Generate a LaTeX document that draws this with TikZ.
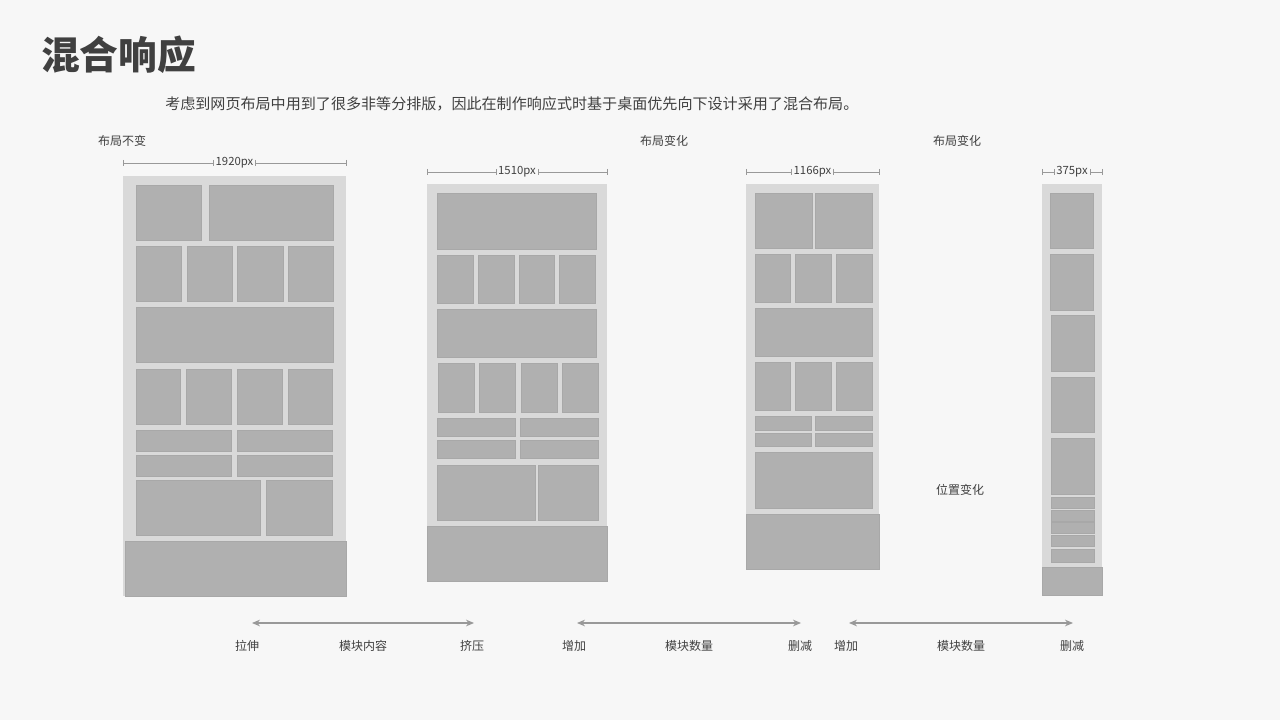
\documentclass[tikz,border=0pt]{standalone}
\usepackage{fontspec}
\setmainfont{Noto Sans CJK SC}
\usetikzlibrary{arrows.meta}
\definecolor{bg}{HTML}{F7F7F7}
\definecolor{panel}{HTML}{D9D9D9}
\definecolor{blk}{HTML}{B0B0B0}
\definecolor{blkb}{HTML}{A8A8A8}
\definecolor{txt}{HTML}{404040}
\definecolor{dim}{HTML}{999999}
\newcommand{\bx}[4]{\fill[blk,draw=blkb,line width=0.4pt] (#1,#2) rectangle (#3,#4);}
\newcommand{\pn}[4]{\fill[panel] (#1,#2) rectangle (#3,#4);}
\newcommand{\dimline}[5]{%
 \draw[dim,line width=0.5pt] (#1,#3)--(#2,#3);
 \draw[dim,line width=0.5pt] (#1,#3-3)--(#1,#3+3) (#2,#3-3)--(#2,#3+3);
 \node[fill=bg,inner sep=1.5pt,font=\fontsize{8.5}{10}\selectfont,text=txt] (#5) at ({(#1+#2)/2},#3) {#4};
 \draw[dim,line width=0.5pt] (#5.west)++(0,-3)--++(0,6) (#5.east)++(0,-3)--++(0,6);}
\tikzset{lbl/.style={font=\fontsize{9}{11}\selectfont,text=txt,inner sep=0pt},
 arr/.style={{Stealth[length=6pt,width=5pt]}-{Stealth[length=6pt,width=5pt]},dim,line width=0.8pt}}
\begin{document}
\begin{tikzpicture}[x=0.75pt,y=-0.75pt]
\fill[bg] (0,0) rectangle (1280,720);
\useasboundingbox (0,0) rectangle (1280,720);
\node[anchor=west,font=\fontsize{29}{32}\bfseries\selectfont,text=txt,inner sep=0pt] (title) at (41,55) {混合响应};
\node[anchor=west,font=\fontsize{11.3}{13}\selectfont,text=txt,inner sep=0pt] (sub) at (165,104) {考虑到网页布局中用到了很多非等分排版，因此在制作响应式时基于桌面优先向下设计采用了混合布局。};
\node[lbl] (l1) at (122,141) {布局不变};
\node[lbl] (l2) at (664,141) {布局变化};
\node[lbl] (l3) at (957,141) {布局变化};
\node[lbl] (l4) at (960,490) {位置变化};
% panel 1
\pn{123}{176}{346}{596}
\bx{136}{185}{201}{240}\bx{209}{185}{333}{240}
\bx{136}{246}{181}{301}\bx{187}{246}{232}{301}\bx{237}{246}{283}{301}\bx{288}{246}{333}{301}
\bx{136}{307}{333}{362}
\bx{136}{369}{180}{424}\bx{186}{369}{231}{424}\bx{237}{369}{282}{424}\bx{288}{369}{332}{424}
\bx{136}{430}{231}{451}\bx{237}{430}{332}{451}
\bx{136}{455}{231}{476}\bx{237}{455}{332}{476}
\bx{136}{480}{260}{535}\bx{266}{480}{332}{535}
\bx{125}{541}{346}{596}
\dimline{123}{346}{163}{1920px}{d1}
% panel 2
\pn{427}{184}{607}{581}
\bx{437}{193}{596}{249}
\bx{437}{255}{473}{303}\bx{478}{255}{514}{303}\bx{519}{255}{554}{303}\bx{559}{255}{595}{303}
\bx{437}{309}{596}{357}
\bx{438}{363}{474}{412}\bx{479}{363}{515}{412}\bx{521}{363}{557}{412}\bx{562}{363}{598}{412}
\bx{437}{418}{515}{436}\bx{520}{418}{598}{436}
\bx{437}{440}{515}{458}\bx{520}{440}{598}{458}
\bx{437}{465}{535}{520}\bx{538}{465}{598}{520}
\bx{427}{526}{607}{581}
\dimline{427}{607}{172}{1510px}{d2}
% panel 3
\pn{746}{184}{879}{569}
\bx{755}{193}{812}{248}\bx{815}{193}{872}{248}
\bx{755}{254}{790}{302}\bx{795}{254}{831}{302}\bx{836}{254}{872}{302}
\bx{755}{308}{872}{356}
\bx{755}{362}{790}{410}\bx{795}{362}{831}{410}\bx{836}{362}{872}{410}
\bx{755}{416}{811}{430}\bx{815}{416}{872}{430}
\bx{755}{433}{811}{446}\bx{815}{433}{872}{446}
\bx{755}{452}{872}{508}
\bx{746}{514}{879}{569}
\dimline{746}{879}{172}{1166px}{d3}
% panel 4
\pn{1042}{184}{1102}{595}
\bx{1050}{193}{1093}{248}\bx{1050}{254}{1093}{310}
\bx{1051}{315}{1094}{371}\bx{1051}{377}{1094}{432}\bx{1051}{438}{1094}{494}
\bx{1051}{497}{1094}{508}\bx{1051}{510}{1094}{521}\bx{1051}{522}{1094}{533}\bx{1051}{535}{1094}{546}\bx{1051}{549}{1094}{562}
\bx{1042}{567}{1102}{595}
\dimline{1042}{1102}{172}{375px}{d4}
% arrows
\coordinate (a1) at (252,623); \coordinate (b1) at (474,623);
\coordinate (a2) at (577,623); \coordinate (b2) at (801,623);
\coordinate (a3) at (849,623); \coordinate (b3) at (1073,623);
\draw[arr] (a1)--(b1); \draw[arr] (a2)--(b2); \draw[arr] (a3)--(b3);
\node[lbl] (t1) at (247,646) {拉伸};
\node[lbl] (t2) at (363,646) {模块内容};
\node[lbl] (t3) at (472,646) {挤压};
\node[lbl] (t4) at (574,646) {增加};
\node[lbl] (t5) at (689,646) {模块数量};
\node[lbl] (t6) at (800,646) {删减};
\node[lbl] (t7) at (846,646) {增加};
\node[lbl] (t8) at (961,646) {模块数量};
\node[lbl] (t9) at (1072,646) {删减};
\end{tikzpicture}
\end{document}
